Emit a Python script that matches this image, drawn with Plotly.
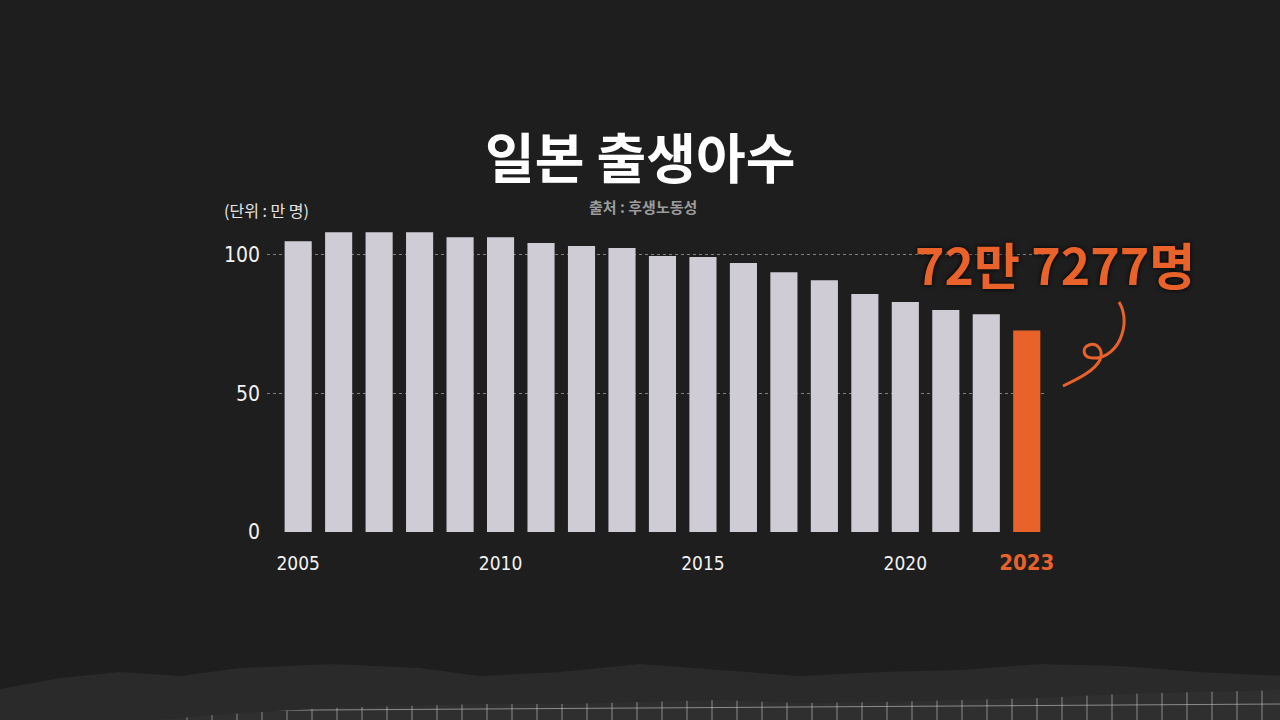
import plotly.graph_objects as go

# 일본 출생아수 (단위: 만 명)
years = list(range(2005, 2024))
births = [105.0, 108.2, 108.2, 108.2, 106.4, 106.4, 104.3, 103.2, 102.5, 99.6,
          99.3, 97.1, 93.8, 90.9, 85.9, 83.0, 80.1, 78.6, 72.7]
tick_years = [2005, 2010, 2015, 2020, 2023]
y_ticks = [0, 50, 100]

GREY = "#d0ccd6"
ORANGE = "#e8622a"
BG = "#1e1e1e"

# plot area in pixels, used to place decorations
L, R, T, B = 267, 1047, 227, 532


def px(x, y):
    return (x - L) / (R - L), (B - y) / (B - T)


def path(points):
    out = []
    for cmd, pts in points:
        coords = " ".join("%.4f,%.4f" % px(x, y) for x, y in pts)
        out.append(cmd + " " + coords)
    return " ".join(out)


def polyline(pts):
    segs = [("M", [pts[0]])] + [("L", [p]) for p in pts[1:]]
    return path(segs) + " Z"


bar_colors = [ORANGE if y == 2023 else GREY for y in years]

fig = go.Figure()
fig.add_trace(go.Bar(
    x=years,
    y=births,
    width=0.67,
    marker=dict(color=bar_colors, line=dict(width=0)),
    hoverinfo="x+y",
))

ticktext = [str(y) for y in tick_years[:-1]]
ticktext.append("<b><span style='color:%s;font-size:22px'>2023</span></b>" % ORANGE)

fig.update_layout(
    width=1280,
    height=720,
    paper_bgcolor=BG,
    plot_bgcolor="rgba(0,0,0,0)",
    margin=dict(l=L, r=1280 - R, t=T, b=720 - B),
    showlegend=False,
    xaxis=dict(
        range=[2005 - 0.77, 2023.5],
        tickvals=tick_years,
        ticktext=ticktext,
        showgrid=False,
        zeroline=False,
        showline=False,
        ticks="",
        ticklabelstandoff=18,
        tickfont=dict(family="DejaVu Sans Condensed, Roboto, sans-serif", size=19, color="#f2f2f2"),
    ),
    yaxis=dict(
        range=[0, 110.1],
        tickvals=y_ticks,
        showgrid=True,
        gridcolor="rgba(210,210,210,0.55)",
        griddash="dot",
        gridwidth=1,
        zeroline=False,
        showline=False,
        ticks="",
        ticklabelstandoff=6,
        tickfont=dict(family="DejaVu Sans Condensed, Roboto, sans-serif", size=21, color="#f2f2f2"),
    ),
)


def label(x, y, text, size, color, xanchor="center", **font):
    ax, ay = px(x, y)
    fig.add_annotation(x=ax, y=ay, xref="paper", yref="paper", showarrow=False,
                       xanchor=xanchor, yanchor="middle", text=text,
                       font=dict(family="Noto Sans CJK KR", size=size, color=color, **font))


label(640, 155, "<b>일본 출생아수</b>", 54, "#ffffff")
label(643, 206, "<b>출처 : 후생노동성</b>", 15, "#9c9c9c")
label(222, 210, "(단위 : 만 명)", 16, "#e6e6e6", xanchor="left")
label(1055, 263, "<b>72만 7277명</b>", 50, ORANGE, shadow="0px 0px 5px #000000")

# curly pointer next to the last bar
fig.add_shape(type="path", xref="paper", yref="paper",
              path=path([
                  ("M", [(1063, 386)]),
                  ("C", [(1080, 378), (1095, 370), (1100, 360)]),
                  ("C", [(1104, 350), (1097, 342), (1089, 345)]),
                  ("C", [(1081, 348), (1083, 358), (1093, 358)]),
                  ("C", [(1106, 359), (1118, 348), (1122, 334)]),
                  ("C", [(1126, 322), (1124, 310), (1119, 302)]),
              ]),
              line=dict(color=ORANGE, width=3))

# torn paper and grid strip at the bottom
fig.add_shape(type="rect", xref="paper", yref="paper", layer="below",
              x0=px(0, 0)[0], x1=px(1280, 0)[0], y0=px(0, 690)[1], y1=px(0, 725)[1],
              fillcolor="#2f2f2f", line=dict(width=0))
for gx in range(12, 1280, 25):
    x0, _ = px(gx, 0)
    fig.add_shape(type="line", xref="paper", yref="paper", layer="below",
                  x0=x0, x1=x0, y0=px(0, 690)[1], y1=px(0, 725)[1],
                  line=dict(color="rgba(200,200,200,0.6)", width=1))
fig.add_shape(type="line", xref="paper", yref="paper", layer="below",
              x0=px(0, 0)[0], x1=px(1280, 0)[0], y0=px(0, 712)[1], y1=px(0, 704)[1],
              line=dict(color="rgba(200,200,200,0.6)", width=1))
fig.add_shape(type="path", xref="paper", yref="paper", layer="below",
              path=polyline([
                  (-5, 690), (60, 678), (120, 672), (180, 676), (240, 668), (330, 664),
                  (420, 668), (480, 676), (560, 672), (640, 664), (720, 670),
                  (800, 676), (880, 672), (960, 670), (1040, 664), (1120, 666),
                  (1200, 672), (1285, 676),
                  (1285, 690), (1200, 692), (1120, 694), (1040, 698),
                  (960, 700), (880, 702), (800, 703), (720, 700), (640, 702),
                  (560, 704), (480, 704), (400, 706), (330, 708), (260, 712),
                  (200, 716), (140, 722), (-5, 722),
              ]),
              fillcolor="#2a2a2a", line=dict(width=0))

fig.write_html("out.html",
               config={"displayModeBar": False},
               post_script="document.body.style.margin='0';"
                           "document.body.style.background='%s';" % BG)
